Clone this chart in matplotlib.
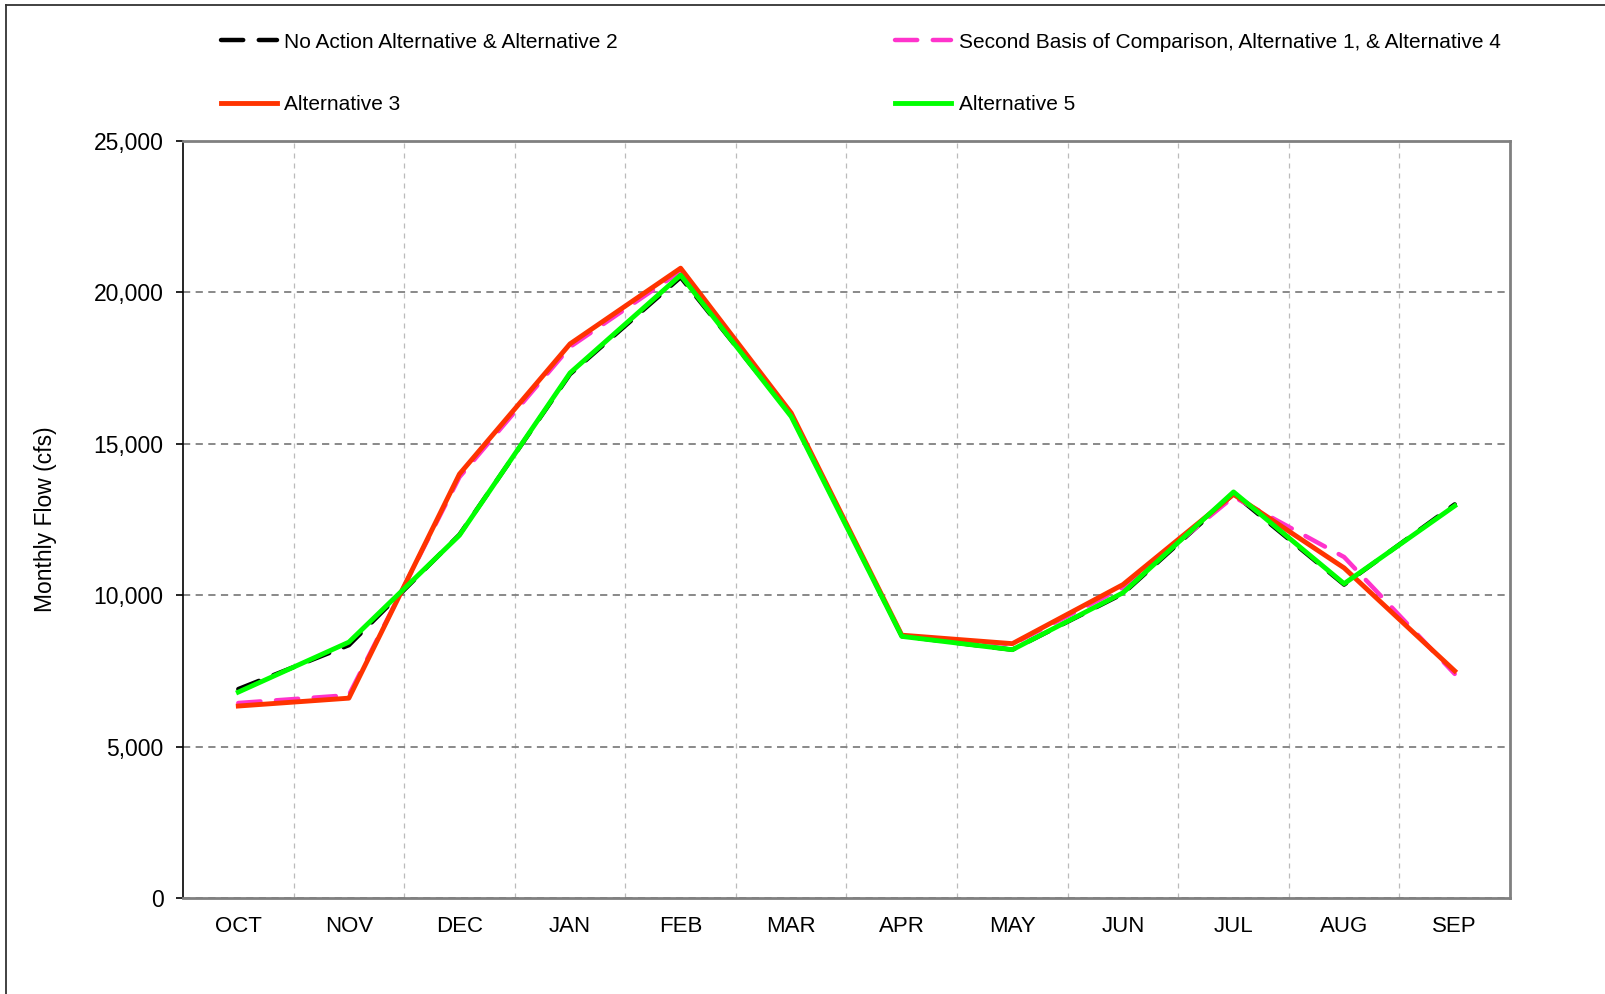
import matplotlib
matplotlib.use("Agg")
import matplotlib.pyplot as plt
from matplotlib.lines import Line2D
from matplotlib.ticker import FuncFormatter, MultipleLocator

plt.rcParams['font.family'] = ['Liberation Sans', 'DejaVu Sans']

months = ["OCT", "NOV", "DEC", "JAN", "FEB", "MAR", "APR", "MAY", "JUN", "JUL", "AUG", "SEP"]

no_action_alt2 = [6900, 8350, 12000, 17300, 20500, 15950, 8650, 8200, 10050, 13350, 10350, 13000]
second_basis_alt1_alt4 = [6440, 6700, 13900, 18200, 20700, 15950, 8650, 8380, 10250, 13250, 11260, 7400]
alternative_3 = [6340, 6600, 14000, 18300, 20800, 16020, 8680, 8400, 10350, 13330, 10900, 7500]
alternative_5 = [6800, 8450, 11980, 17340, 20570, 15900, 8640, 8200, 10080, 13410, 10380, 12950]

fig = plt.figure(figsize=(16.06, 9.94), dpi=100)
ax = fig.add_axes([183 / 1606, 1 - 898 / 994, (1510 - 183) / 1606, (898 - 141) / 994])

x = list(range(len(months)))
ax.plot(x, no_action_alt2, color="black", lw=3.2, ls=(0, (5, 3.5)), dash_capstyle="round",
        label="No Action Alternative & Alternative 2", zorder=3)
ax.plot(x, second_basis_alt1_alt4, color="#FF33CC", lw=3.2, ls=(0, (5, 3.5)), dash_capstyle="round",
        label="Second Basis of Comparison, Alternative 1, & Alternative 4", zorder=3)
ax.plot(x, alternative_3, color="#FF3300", lw=3.5, label="Alternative 3", zorder=4)
ax.plot(x, alternative_5, color="#00FF00", lw=3.5, label="Alternative 5", zorder=5)

ax.set_xlim(-0.5, len(months) - 0.5)
ax.set_ylim(0, 25000)
ax.set_xticks(x)
ax.set_xticklabels(months, fontsize=16)
ax.set_xticks([i + 0.5 for i in range(len(months) - 1)], minor=True)
ax.tick_params(axis="x", which="both", length=0, pad=13)
ax.yaxis.set_major_locator(MultipleLocator(5000))
ax.yaxis.set_major_formatter(FuncFormatter(lambda v, p: f"{int(v):,}"))
ax.tick_params(axis="y", labelsize=16.5, length=5, width=1.2, color="black", pad=9)

ax.grid(axis="x", which="minor", color="#BBBBBB", ls=(0, (4, 4)), lw=0.9)
ax.grid(axis="y", which="major", color="#808080", ls=(0, (4, 3)), lw=1.3)
ax.set_axisbelow(True)

for side in ("top", "right", "bottom"):
    ax.spines[side].set_color("#808080")
    ax.spines[side].set_linewidth(2)
ax.spines["left"].set_color("black")
ax.spines["left"].set_linewidth(1.2)

ax.set_ylabel("Monthly Flow (cfs)", fontsize=16.5, labelpad=26)

handles, labels = ax.get_legend_handles_labels()
order = [0, 2, 1, 3]
fig.legend([handles[i] for i in order], [labels[i] for i in order],
           loc="upper left", bbox_to_anchor=(202 / 1606, 1 - 14 / 994),
           ncol=2, frameon=False, fontsize=15, handlelength=2.7, handletextpad=0.35,
           columnspacing=13.3, labelspacing=2.1)

# thin frame along the left and top edges of the figure
fig.add_artist(Line2D([6 / 1606, 6 / 1606], [0, 1 - 5 / 994], transform=fig.transFigure,
                      color="#333333", lw=1.3))
fig.add_artist(Line2D([6 / 1606, 1], [1 - 5 / 994, 1 - 5 / 994], transform=fig.transFigure,
                      color="#333333", lw=1.3))

fig.savefig("out.png", dpi=100)
